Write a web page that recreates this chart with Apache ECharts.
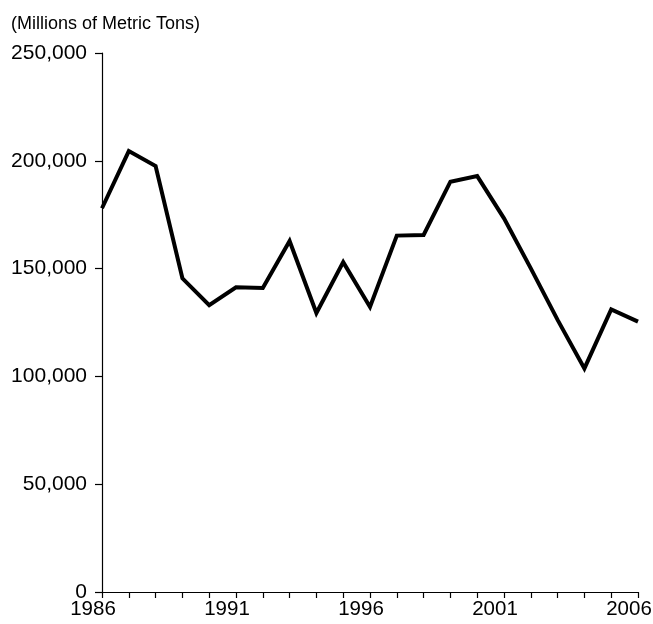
<!DOCTYPE html>
<html><head><meta charset="utf-8">
<script src="https://cdn.jsdelivr.net/npm/echarts@6/dist/echarts.min.js"></script>
<style>html,body{margin:0;padding:0;background:#fff}#c{width:653px;height:624px}</style>
</head><body><div id="c"></div>
<script>
const years = [1986,1987,1988,1989,1990,1991,1992,1993,1994,1995,1996,1997,1998,1999,2000,2001,2002,2003,2004,2005,2006];
const values = [178000,204500,197600,145500,133000,141300,141000,162800,129400,153000,132200,165300,165600,190300,192900,173300,150100,126200,103700,131100,125400];
const yTicks = [0,50000,100000,150000,200000,250000];
const subtitle = '(Millions of Metric Tons)';

const chart = echarts.init(document.getElementById('c'), null, {renderer:'canvas'});
const font = 'Liberation Sans, Arial, Helvetica, sans-serif';
chart.setOption({
  animation:false,
  title:{text:subtitle,left:6,top:10,textStyle:{fontFamily:font,fontSize:18,fontWeight:'normal',color:'#000'}},
  grid:{left:102,right:15,top:53,bottom:32,containLabel:false,outerBoundsMode:'none'},
  xAxis:{type:'value',min:years[0],max:years[years.length-1],interval:1,
    axisLine:{lineStyle:{color:'#000',width:1.2}},
    axisTick:{show:true,length:6,lineStyle:{color:'#000',width:1.2}},
    splitLine:{show:false},
    axisLabel:{fontFamily:font,fontSize:20.5,color:'#000',margin:7,showMaxLabel:true,showMinLabel:true,hideOverlap:false,
      padding:[0,18,0,0],
      formatter:v=>((v-years[0])%5===0?String(v):'')}},
  yAxis:{type:'value',min:yTicks[0],max:yTicks[yTicks.length-1],interval:yTicks[1]-yTicks[0],
    axisLine:{show:true,lineStyle:{color:'#000',width:1.2}},
    axisTick:{show:true,length:7,lineStyle:{color:'#000',width:1.2}},
    splitLine:{show:false},
    axisLabel:{fontFamily:font,fontSize:21,color:'#000',margin:15,
      formatter:v=>v.toLocaleString('en-US')}},
  series:[{type:'line',data:years.map((y,i)=>[y,values[i]]),symbol:'none',
    lineStyle:{color:'#000',width:4,join:'miter'}}]
});
</script></body></html>
